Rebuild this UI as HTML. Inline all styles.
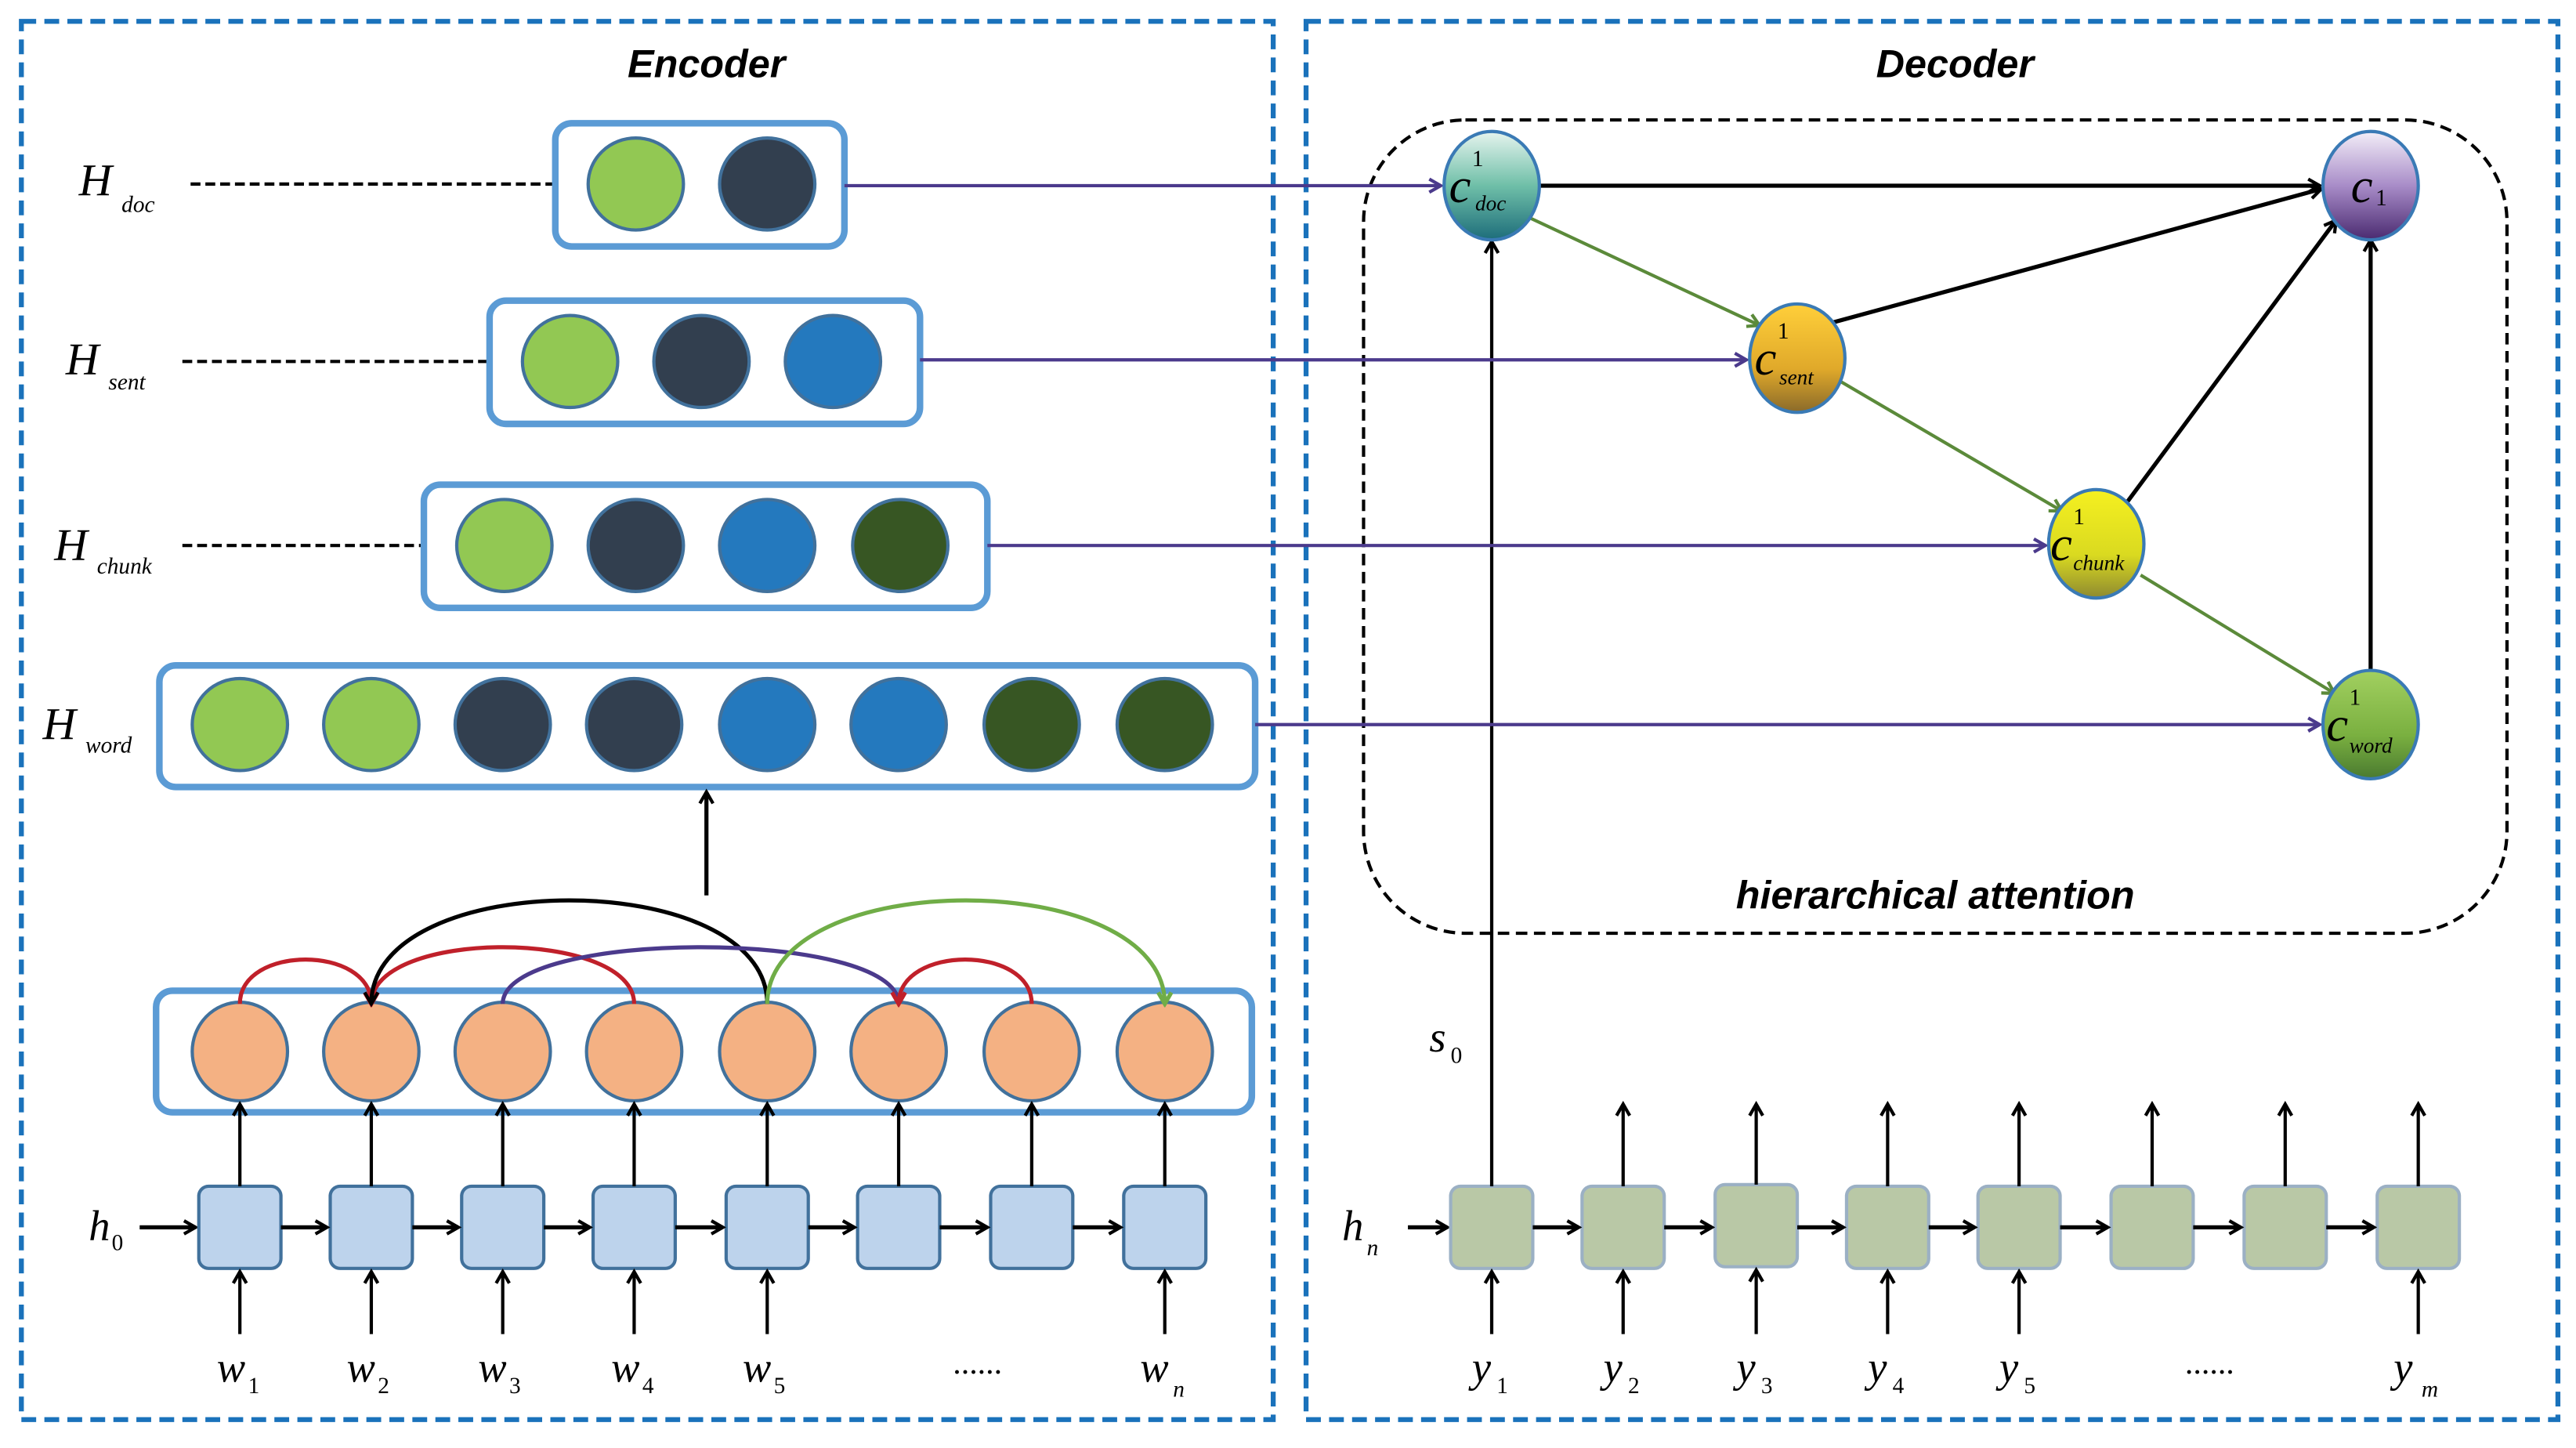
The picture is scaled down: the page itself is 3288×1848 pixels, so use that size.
<!DOCTYPE html>
<html><head><meta charset="utf-8"><style>html,body{margin:0;padding:0;background:#fff}svg{display:block}</style></head>
<body>
<svg width="3288" height="1848" viewBox="0 0 1568 881.3" xmlns="http://www.w3.org/2000/svg" font-family="'Liberation Serif',serif">
<defs>
<marker id="ak" markerWidth="10" markerHeight="10" refX="8" refY="5" orient="auto" markerUnits="userSpaceOnUse"><path d="M1,1 L8,5 L1,9" fill="none" stroke="#000" stroke-width="2"/></marker>
<marker id="ap" markerWidth="10" markerHeight="10" refX="8" refY="5" orient="auto" markerUnits="userSpaceOnUse"><path d="M1,1 L8,5 L1,9" fill="none" stroke="#4b3a8c" stroke-width="2"/></marker>
<marker id="ag" markerWidth="10" markerHeight="10" refX="8" refY="5" orient="auto" markerUnits="userSpaceOnUse"><path d="M1,1 L8,5 L1,9" fill="none" stroke="#5b8a3a" stroke-width="2"/></marker>
<marker id="ar" markerWidth="10" markerHeight="10" refX="8" refY="5" orient="auto" markerUnits="userSpaceOnUse"><path d="M1,1 L8,5 L1,9" fill="none" stroke="#c0202a" stroke-width="2.5"/></marker>
<marker id="al" markerWidth="10" markerHeight="10" refX="8" refY="5" orient="auto" markerUnits="userSpaceOnUse"><path d="M1,1 L8,5 L1,9" fill="none" stroke="#70ad47" stroke-width="2.5"/></marker>
<linearGradient id="gd" x1="0" y1="0" x2="0" y2="1"><stop offset="0" stop-color="#e6f4ee"/><stop offset="0.5" stop-color="#6fbfa8"/><stop offset="1" stop-color="#1d6d7a"/></linearGradient>
<linearGradient id="gs" x1="0" y1="0" x2="0" y2="1"><stop offset="0" stop-color="#ffcf3a"/><stop offset="0.6" stop-color="#e0a92a"/><stop offset="1" stop-color="#8a6a2a"/></linearGradient>
<linearGradient id="gc" x1="0" y1="0" x2="0" y2="1"><stop offset="0" stop-color="#f5f020"/><stop offset="0.6" stop-color="#dada20"/><stop offset="1" stop-color="#8e8a30"/></linearGradient>
<linearGradient id="gw" x1="0" y1="0" x2="0" y2="1"><stop offset="0" stop-color="#a2d060"/><stop offset="0.6" stop-color="#7ab040"/><stop offset="1" stop-color="#4a7a30"/></linearGradient>
<linearGradient id="g1" x1="0" y1="0" x2="0" y2="1"><stop offset="0" stop-color="#f3eef8"/><stop offset="0.5" stop-color="#a88cc8"/><stop offset="1" stop-color="#4a2a70"/></linearGradient>
</defs>

<!-- outer dashed boxes -->
<rect x="13" y="13" width="762" height="851" fill="none" stroke="#1a72bb" stroke-width="3" stroke-dasharray="9,5"/>
<rect x="795" y="13" width="762" height="851" fill="none" stroke="#1a72bb" stroke-width="3" stroke-dasharray="9,5"/>
<text x="430" y="47" font-family="'Liberation Sans',sans-serif" font-weight="bold" font-style="italic" font-size="24" text-anchor="middle">Encoder</text>
<text x="1190" y="47" font-family="'Liberation Sans',sans-serif" font-weight="bold" font-style="italic" font-size="24" text-anchor="middle">Decoder</text>

<!-- H labels -->
<g font-style="italic" fill="#000">
<text x="48" y="119" font-size="28">H</text><text x="74" y="129" font-size="14">doc</text>
<text x="40" y="228" font-size="28">H</text><text x="66" y="237" font-size="14">sent</text>
<text x="33" y="341" font-size="28">H</text><text x="59" y="349" font-size="14">chunk</text>
<text x="26" y="450" font-size="28">H</text><text x="52" y="458" font-size="14">word</text>
</g>
<g stroke="#000" stroke-width="2" stroke-dasharray="6,3">
<line x1="116" y1="112" x2="338" y2="112"/>
<line x1="111" y1="220" x2="298" y2="220"/>
<line x1="111" y1="332" x2="258" y2="332"/>
</g>

<!-- H boxes -->
<g fill="none" stroke="#5b9bd5" stroke-width="4">
<rect x="338" y="75" width="176" height="75" rx="10"/>
<rect x="298" y="183" width="262" height="75" rx="10"/>
<rect x="258" y="295" width="343" height="75" rx="10"/>
<rect x="97" y="405" width="667" height="74" rx="10"/>
<rect x="95" y="603" width="667" height="74" rx="10"/>
</g>
<g stroke="#41719c" stroke-width="2">
<ellipse cx="387" cy="112" rx="29" ry="28" fill="#92c853"/>
<ellipse cx="467" cy="112" rx="29" ry="28" fill="#323f4f"/>
<ellipse cx="347" cy="220" rx="29" ry="28" fill="#92c853"/>
<ellipse cx="427" cy="220" rx="29" ry="28" fill="#323f4f"/>
<ellipse cx="507" cy="220" rx="29" ry="28" fill="#2479be"/>
<ellipse cx="307" cy="332" rx="29" ry="28" fill="#92c853"/>
<ellipse cx="387" cy="332" rx="29" ry="28" fill="#323f4f"/>
<ellipse cx="467" cy="332" rx="29" ry="28" fill="#2479be"/>
<ellipse cx="548" cy="332" rx="29" ry="28" fill="#375623"/>
<ellipse cx="146" cy="441" rx="29" ry="28" fill="#92c853"/>
<ellipse cx="226" cy="441" rx="29" ry="28" fill="#92c853"/>
<ellipse cx="306" cy="441" rx="29" ry="28" fill="#323f4f"/>
<ellipse cx="386" cy="441" rx="29" ry="28" fill="#323f4f"/>
<ellipse cx="467" cy="441" rx="29" ry="28" fill="#2479be"/>
<ellipse cx="547" cy="441" rx="29" ry="28" fill="#2479be"/>
<ellipse cx="628" cy="441" rx="29" ry="28" fill="#375623"/>
<ellipse cx="709" cy="441" rx="29" ry="28" fill="#375623"/>
</g>
<line x1="430" y1="545" x2="430" y2="482" stroke="#000" stroke-width="2.5" marker-end="url(#ak)"/>

<!-- orange circles -->
<g stroke="#41719c" stroke-width="2" fill="#f4b183">
<ellipse cx="146" cy="640" rx="29" ry="30"/><ellipse cx="226" cy="640" rx="29" ry="30"/>
<ellipse cx="306" cy="640" rx="29" ry="30"/><ellipse cx="386" cy="640" rx="29" ry="30"/>
<ellipse cx="467" cy="640" rx="29" ry="30"/><ellipse cx="547" cy="640" rx="29" ry="30"/>
<ellipse cx="628" cy="640" rx="29" ry="30"/><ellipse cx="709" cy="640" rx="29" ry="30"/>
</g>
<!-- arcs -->
<g fill="none" stroke-width="2.5">
<path d="M146,611 C146,575 226,575 226,611" stroke="#c0202a" marker-end="url(#ar)"/>
<path d="M386,611 C386,565 226,565 226,611" stroke="#c0202a" marker-end="url(#ar)"/>
<path d="M467,611 C467,527 226,527 226,611" stroke="#000" marker-end="url(#ak)"/>
<path d="M306,611 C306,565 547,565 547,611" stroke="#4b3a8c" marker-end="url(#ap)"/>
<path d="M467,611 C467,527 709,527 709,611" stroke="#70ad47" marker-end="url(#al)"/>
<path d="M628,611 C628,575 547,575 547,611" stroke="#c0202a" marker-end="url(#ar)"/>
</g>

<!-- encoder LSTM -->
<g stroke="#000" stroke-width="2.5">
<line x1="85" y1="747" x2="119" y2="747" marker-end="url(#ak)"/>
</g>
<g id="enc">
<g stroke="#41719c" stroke-width="2" fill="#bdd3ec">
<rect x="121" y="722" width="50" height="50" rx="6"/><rect x="201" y="722" width="50" height="50" rx="6"/>
<rect x="281" y="722" width="50" height="50" rx="6"/><rect x="361" y="722" width="50" height="50" rx="6"/>
<rect x="442" y="722" width="50" height="50" rx="6"/><rect x="522" y="722" width="50" height="50" rx="6"/>
<rect x="603" y="722" width="50" height="50" rx="6"/><rect x="684" y="722" width="50" height="50" rx="6"/>
</g>
<g stroke="#000" stroke-width="2.5" fill="none">
<line x1="171" y1="747" x2="199" y2="747" marker-end="url(#ak)"/>
<line x1="251" y1="747" x2="279" y2="747" marker-end="url(#ak)"/>
<line x1="331" y1="747" x2="359" y2="747" marker-end="url(#ak)"/>
<line x1="411" y1="747" x2="440" y2="747" marker-end="url(#ak)"/>
<line x1="492" y1="747" x2="520" y2="747" marker-end="url(#ak)"/>
<line x1="572" y1="747" x2="601" y2="747" marker-end="url(#ak)"/>
<line x1="653" y1="747" x2="682" y2="747" marker-end="url(#ak)"/>
</g>
<g stroke="#000" stroke-width="2" fill="none">
<line x1="146" y1="722" x2="146" y2="672" marker-end="url(#ak)"/><line x1="226" y1="722" x2="226" y2="672" marker-end="url(#ak)"/>
<line x1="306" y1="722" x2="306" y2="672" marker-end="url(#ak)"/><line x1="386" y1="722" x2="386" y2="672" marker-end="url(#ak)"/>
<line x1="467" y1="722" x2="467" y2="672" marker-end="url(#ak)"/><line x1="547" y1="722" x2="547" y2="672" marker-end="url(#ak)"/>
<line x1="628" y1="722" x2="628" y2="672" marker-end="url(#ak)"/><line x1="709" y1="722" x2="709" y2="672" marker-end="url(#ak)"/>
<line x1="146" y1="812" x2="146" y2="774" marker-end="url(#ak)"/><line x1="226" y1="812" x2="226" y2="774" marker-end="url(#ak)"/>
<line x1="306" y1="812" x2="306" y2="774" marker-end="url(#ak)"/><line x1="386" y1="812" x2="386" y2="774" marker-end="url(#ak)"/>
<line x1="467" y1="812" x2="467" y2="774" marker-end="url(#ak)"/><line x1="709" y1="812" x2="709" y2="774" marker-end="url(#ak)"/>
</g>
</g>
<g font-style="italic" font-size="26">
<text x="54" y="755">h</text><text x="68" y="761" font-size="14" font-style="normal">0</text>
<text x="132" y="841">w</text><text x="151" y="848" font-size="14" font-style="normal">1</text>
<text x="211" y="841">w</text><text x="230" y="848" font-size="14" font-style="normal">2</text>
<text x="291" y="841">w</text><text x="310" y="848" font-size="14" font-style="normal">3</text>
<text x="372" y="841">w</text><text x="391" y="848" font-size="14" font-style="normal">4</text>
<text x="452" y="841">w</text><text x="471" y="848" font-size="14" font-style="normal">5</text>
<text x="580" y="836" font-style="normal" font-size="20">......</text>
<text x="694" y="841">w</text><text x="714" y="850" font-size="14">n</text>
<text x="817" y="755">h</text><text x="832" y="764" font-size="14">n</text>
<text x="870" y="640">s</text><text x="883" y="647" font-size="14" font-style="normal">0</text>
<text x="896" y="841">y</text><text x="911" y="848" font-size="14" font-style="normal">1</text>
<text x="976" y="841">y</text><text x="991" y="848" font-size="14" font-style="normal">2</text>
<text x="1057" y="841">y</text><text x="1072" y="848" font-size="14" font-style="normal">3</text>
<text x="1137" y="841">y</text><text x="1152" y="848" font-size="14" font-style="normal">4</text>
<text x="1217" y="841">y</text><text x="1232" y="848" font-size="14" font-style="normal">5</text>
<text x="1330" y="836" font-style="normal" font-size="20">......</text>
<text x="1457" y="841">y</text><text x="1474" y="850" font-size="14">m</text>
</g>

<!-- decoder LSTM -->
<line x1="857" y1="747" x2="881" y2="747" stroke="#000" stroke-width="2.5" marker-end="url(#ak)"/>
<g stroke="#9bb0c4" stroke-width="2" fill="#b9c8a6">
<rect x="883" y="722" width="50" height="50" rx="6"/><rect x="963" y="722" width="50" height="50" rx="6"/>
<rect x="1044" y="721" width="50" height="50" rx="6"/><rect x="1124" y="722" width="50" height="50" rx="6"/>
<rect x="1204" y="722" width="50" height="50" rx="6"/><rect x="1285" y="722" width="50" height="50" rx="6"/>
<rect x="1366" y="722" width="50" height="50" rx="6"/><rect x="1447" y="722" width="50" height="50" rx="6"/>
</g>
<g stroke="#000" stroke-width="2.5" fill="none">
<line x1="933" y1="747" x2="961" y2="747" marker-end="url(#ak)"/>
<line x1="1013" y1="747" x2="1042" y2="747" marker-end="url(#ak)"/>
<line x1="1094" y1="747" x2="1122" y2="747" marker-end="url(#ak)"/>
<line x1="1174" y1="747" x2="1202" y2="747" marker-end="url(#ak)"/>
<line x1="1254" y1="747" x2="1283" y2="747" marker-end="url(#ak)"/>
<line x1="1335" y1="747" x2="1364" y2="747" marker-end="url(#ak)"/>
<line x1="1416" y1="747" x2="1445" y2="747" marker-end="url(#ak)"/>
</g>
<g stroke="#000" stroke-width="2" fill="none">
<line x1="988" y1="722" x2="988" y2="672" marker-end="url(#ak)"/><line x1="1069" y1="721" x2="1069" y2="672" marker-end="url(#ak)"/>
<line x1="1149" y1="722" x2="1149" y2="672" marker-end="url(#ak)"/><line x1="1229" y1="722" x2="1229" y2="672" marker-end="url(#ak)"/>
<line x1="1310" y1="722" x2="1310" y2="672" marker-end="url(#ak)"/><line x1="1391" y1="722" x2="1391" y2="672" marker-end="url(#ak)"/>
<line x1="1472" y1="722" x2="1472" y2="672" marker-end="url(#ak)"/>
<line x1="908" y1="812" x2="908" y2="774" marker-end="url(#ak)"/><line x1="988" y1="812" x2="988" y2="774" marker-end="url(#ak)"/>
<line x1="1069" y1="812" x2="1069" y2="773" marker-end="url(#ak)"/><line x1="1149" y1="812" x2="1149" y2="774" marker-end="url(#ak)"/>
<line x1="1229" y1="812" x2="1229" y2="774" marker-end="url(#ak)"/><line x1="1472" y1="812" x2="1472" y2="774" marker-end="url(#ak)"/>
<line x1="908" y1="722" x2="908" y2="147" marker-end="url(#ak)"/>
</g>

<!-- attention region -->
<rect x="830" y="73" width="696" height="495" rx="62" fill="none" stroke="#000" stroke-width="2" stroke-dasharray="7,4"/>
<text x="1178" y="553" font-family="'Liberation Sans',sans-serif" font-weight="bold" font-style="italic" font-size="24" text-anchor="middle">hierarchical attention</text>

<!-- purple arrows -->
<g stroke="#4b3a8c" stroke-width="2" fill="none">
<line x1="514" y1="113" x2="877" y2="113" marker-end="url(#ap)"/>
<line x1="560" y1="219" x2="1063" y2="219" marker-end="url(#ap)"/>
<line x1="601" y1="332" x2="1245" y2="332" marker-end="url(#ap)"/>
<line x1="764" y1="441" x2="1412" y2="441" marker-end="url(#ap)"/>
</g>
<!-- green arrows -->
<g stroke="#5b8a3a" stroke-width="2" fill="none">
<line x1="932" y1="133" x2="1071" y2="198" marker-end="url(#ag)"/>
<line x1="1120" y1="232" x2="1255" y2="311" marker-end="url(#ag)"/>
<line x1="1303" y1="350" x2="1421" y2="422" marker-end="url(#ag)"/>
</g>
<!-- black arrows -->
<g stroke="#000" stroke-width="2.5" fill="none">
<line x1="937" y1="113" x2="1412" y2="113" marker-end="url(#ak)"/>
<line x1="1113" y1="197" x2="1413" y2="115" marker-end="url(#ak)"/>
<line x1="1293" y1="308" x2="1422" y2="134" marker-end="url(#ak)"/>
<line x1="1443" y1="411" x2="1443" y2="146" marker-end="url(#ak)"/>
</g>
<!-- nodes -->
<g stroke="#3a7ab5" stroke-width="2">
<ellipse cx="908" cy="113" rx="29" ry="33" fill="url(#gd)"/>
<ellipse cx="1094" cy="218" rx="29" ry="33" fill="url(#gs)"/>
<ellipse cx="1276" cy="331" rx="29" ry="33" fill="url(#gc)"/>
<ellipse cx="1443" cy="441" rx="29" ry="33" fill="url(#gw)"/>
<ellipse cx="1443" cy="113" rx="29" ry="33" fill="url(#g1)"/>
</g>
<g font-style="italic">
<text x="882" y="123" font-size="30">c</text><text x="896" y="101" font-size="14" font-style="normal">1</text><text x="898" y="128" font-size="13">doc</text>
<text x="1068" y="228" font-size="30">c</text><text x="1082" y="206" font-size="14" font-style="normal">1</text><text x="1083" y="234" font-size="13">sent</text>
<text x="1248" y="341" font-size="30">c</text><text x="1262" y="319" font-size="14" font-style="normal">1</text><text x="1262" y="347" font-size="13">chunk</text>
<text x="1416" y="451" font-size="30">c</text><text x="1430" y="429" font-size="14" font-style="normal">1</text><text x="1430" y="458" font-size="13">word</text>
<text x="1431" y="123" font-size="30">c</text><text x="1446" y="125" font-size="14" font-style="normal">1</text>
</g>
</svg>
</body></html>
